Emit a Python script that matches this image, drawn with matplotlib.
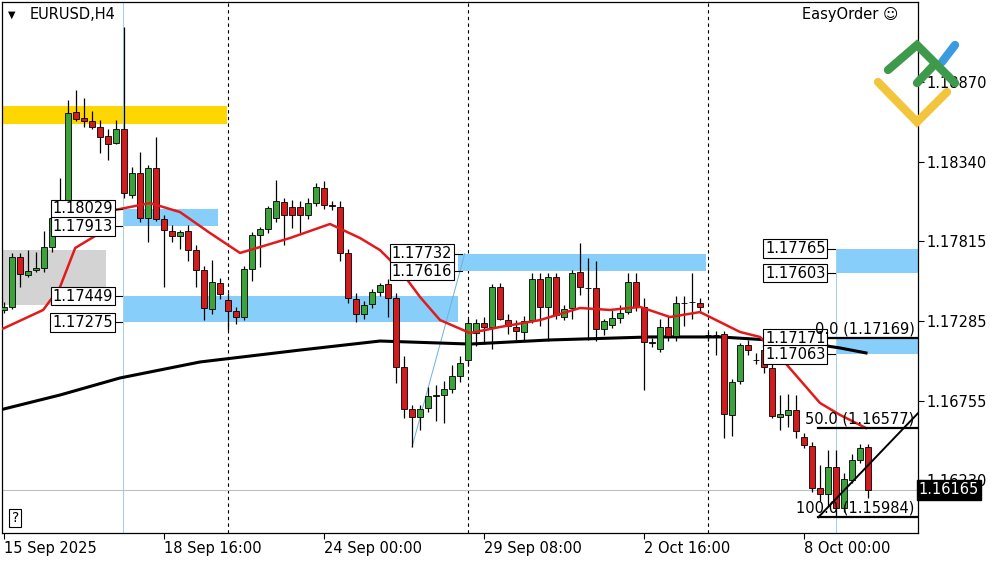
import matplotlib
matplotlib.use("Agg")
import matplotlib.pyplot as plt
from matplotlib.lines import Line2D
from matplotlib.patches import Rectangle

# H4 candles
opens = [1.17358, 1.17378, 1.17709, 1.17590, 1.17623, 1.17636, 1.17775, 1.17968, 1.18067, 1.18670,
         1.18631, 1.18611, 1.18571, 1.18511, 1.18465, 1.18558, 1.18120, 1.18266, 1.17968, 1.18299,
         1.17961, 1.17881, 1.17848, 1.17881, 1.17755, 1.17623, 1.17364, 1.17537, 1.17424, 1.17351,
         1.17311, 1.17630, 1.17855, 1.17895, 1.17968, 1.18074, 1.18041, 1.18041, 1.17988, 1.18067,
         1.18167, 1.18054, 1.18041, 1.17736, 1.17431, 1.17331, 1.17397, 1.17477, 1.17530, 1.17437,
         1.16980, 1.16701, 1.16648, 1.16708, 1.16788, 1.16794, 1.16834, 1.16920, 1.17026, 1.17205,
         1.17272, 1.17245, 1.17510, 1.17291, 1.17245, 1.17212, 1.17291, 1.17563, 1.17378, 1.17576,
         1.17311, 1.17371, 1.17610, 1.17504, 1.17504, 1.17232, 1.17258, 1.17305, 1.17344, 1.17543,
         1.17378, 1.17146, 1.17099, 1.17245, 1.17185, 1.17404, 1.17411, 1.17404, 1.17192, 1.17192,
         1.17198, 1.16662, 1.16887, 1.17126, 1.17026, 1.17092, 1.16973, 1.16648, 1.16662, 1.16695,
         1.16516, 1.16456, 1.16178, 1.16138, 1.16317, 1.16045, 1.16230, 1.16363, 1.16449]
highs = [1.17411, 1.17736, 1.17736, 1.17755, 1.17742, 1.17881, 1.18054, 1.18233, 1.18750, 1.18816,
         1.18763, 1.18680, 1.18617, 1.18558, 1.18617, 1.19234, 1.18305, 1.18405, 1.18320, 1.18505,
         1.17990, 1.17920, 1.17890, 1.17920, 1.17790, 1.17650, 1.17689, 1.17570, 1.17470, 1.17380,
         1.17650, 1.17875, 1.17910, 1.18050, 1.18220, 1.18100, 1.18090, 1.18080, 1.18100, 1.18200,
         1.18210, 1.18080, 1.18080, 1.17760, 1.17470, 1.17420, 1.17500, 1.17540, 1.17560, 1.17470,
         1.17050, 1.16730, 1.16730, 1.16850, 1.16860, 1.16890, 1.16990, 1.17050, 1.17300, 1.17300,
         1.17310, 1.17530, 1.17540, 1.17330, 1.17290, 1.17320, 1.17600, 1.17600, 1.17600, 1.17600,
         1.17390, 1.17620, 1.17802, 1.17700, 1.17680, 1.17300, 1.17360, 1.17390, 1.17603, 1.17603,
         1.17440, 1.17170, 1.17300, 1.17320, 1.17450, 1.17450, 1.17603, 1.17440, 1.17210, 1.17220,
         1.17220, 1.16900, 1.17140, 1.17160, 1.17070, 1.17140, 1.17000, 1.16794, 1.16800, 1.16794,
         1.16540, 1.16480, 1.16330, 1.16430, 1.16430, 1.16280, 1.16400, 1.16470, 1.16470]
lows = [1.17338, 1.17364, 1.17510, 1.17576, 1.17610, 1.17610, 1.17742, 1.17961, 1.18041, 1.18611,
        1.18571, 1.18558, 1.18399, 1.18352, 1.18458, 1.18100, 1.18100, 1.17941, 1.17809, 1.17948,
        1.17510, 1.17809, 1.17760, 1.17680, 1.17510, 1.17291, 1.17330, 1.17430, 1.17225, 1.17265,
        1.17290, 1.17550, 1.17643, 1.17870, 1.17940, 1.17790, 1.17900, 1.17860, 1.17960, 1.18050,
        1.18030, 1.18020, 1.17680, 1.17404, 1.17278, 1.17300, 1.17370, 1.17450, 1.17311, 1.16874,
        1.16642, 1.16449, 1.16560, 1.16680, 1.16620, 1.16608, 1.16810, 1.16880, 1.16990, 1.17120,
        1.17130, 1.17100, 1.17290, 1.17200, 1.17160, 1.17160, 1.17270, 1.17250, 1.17150, 1.17300,
        1.17290, 1.17300, 1.17460, 1.17160, 1.17150, 1.17190, 1.17240, 1.17270, 1.17330, 1.17350,
        1.16827, 1.17110, 1.17080, 1.17150, 1.17150, 1.17250, 1.17300, 1.17340, 1.17150, 1.17059,
        1.16509, 1.16520, 1.16870, 1.17060, 1.17000, 1.16940, 1.16640, 1.16560, 1.16580, 1.16510,
        1.16440, 1.16150, 1.16090, 1.16060, 1.15984, 1.16020, 1.16210, 1.16340, 1.16110]
closes = [1.17378, 1.17709, 1.17596, 1.17616, 1.17636, 1.17775, 1.17968, 1.18060, 1.18664, 1.18624,
          1.18611, 1.18571, 1.18505, 1.18458, 1.18558, 1.18133, 1.18266, 1.17968, 1.18299, 1.17961,
          1.17888, 1.17848, 1.17875, 1.17755, 1.17623, 1.17371, 1.17543, 1.17464, 1.17351, 1.17311,
          1.17630, 1.17855, 1.17895, 1.18034, 1.18080, 1.17988, 1.17988, 1.17988, 1.18067, 1.18173,
          1.18054, 1.18050, 1.17736, 1.17437, 1.17331, 1.17391, 1.17477, 1.17523, 1.17437, 1.16980,
          1.16701, 1.16648, 1.16701, 1.16788, 1.16794, 1.16834, 1.16920, 1.17006, 1.17272, 1.17272,
          1.17245, 1.17510, 1.17298, 1.17252, 1.17218, 1.17285, 1.17563, 1.17378, 1.17576, 1.17325,
          1.17364, 1.17603, 1.17510, 1.17504, 1.17232, 1.17285, 1.17305, 1.17338, 1.17543, 1.17378,
          1.17146, 1.17139, 1.17245, 1.17185, 1.17404, 1.17404, 1.17411, 1.17378, 1.17192, 1.17192,
          1.16668, 1.16880, 1.17126, 1.17092, 1.17026, 1.16980, 1.16655, 1.16668, 1.16695, 1.16556,
          1.16463, 1.16178, 1.16138, 1.16317, 1.16045, 1.16237, 1.16363, 1.16443, 1.16165]

# moving averages, sampled along the picture (bar index, price)
ma_fast_idx = [-0.5, 4.9, 7, 8.9, 12, 13.9, 18.25, 22, 25.75, 29.5, 32, 35.75, 40.75, 44.5, 47, 49.5,
               52, 54.5, 58.25, 62, 67, 72, 75.75, 79.5, 83.25, 87, 89.5, 92, 94.5, 97, 99.5, 102,
               104.5, 107.75]
ma_fast = [1.17225, 1.17358, 1.17510, 1.17769, 1.17868, 1.18021, 1.18067, 1.18007, 1.17868, 1.17736,
           1.17775, 1.17835, 1.17928, 1.17835, 1.17755, 1.17623, 1.17444, 1.17291, 1.17205, 1.17245,
           1.17291, 1.17371, 1.17358, 1.17378, 1.17311, 1.17344, 1.17278, 1.17212, 1.17179, 1.17046,
           1.16894, 1.16741, 1.16662, 1.16575]
ma_slow_idx = [-0.5, 7, 14.5, 24.5, 37, 47, 58.25, 68.25, 80.75, 89.5, 99.5, 104.5, 107.75]
ma_slow = [1.16695, 1.16794, 1.16907, 1.17013, 1.17092, 1.17152, 1.17132, 1.17159, 1.17179, 1.17179,
           1.17146, 1.17106, 1.17073]

price_ticks = [1.18870, 1.18340, 1.17815, 1.17285, 1.16755, 1.16230]
time_ticks = [0, 20, 40, 60, 80, 100]
time_labels = ["15 Sep 2025", "18 Sep 16:00", "24 Sep 00:00", "29 Sep 08:00", "2 Oct 16:00", "8 Oct 00:00"]
separators = [28, 58, 88]

# zones: (start bar, end bar, low, high, colour)
zones = [(-0.25, 27.9, 1.18591, 1.18710, "#ffd700"),
         (-0.25, 12.75, 1.17391, 1.17755, "#d3d3d3"),
         (14.9, 26.75, 1.17913, 1.18029, "#87cefa"),
         (14.9, 56.75, 1.17275, 1.17449, "#87cefa"),
         (56.75, 87.75, 1.17616, 1.17732, "#87cefa"),
         (104.0, 115, 1.17603, 1.17765, "#87cefa"),
         (104.0, 115, 1.17063, 1.17171, "#87cefa")]
# price tags next to the zones: (bar of right edge, price)
tags = [(13.6, 1.18029), (13.6, 1.17913), (13.6, 1.17449), (13.6, 1.17275),
        (56.0, 1.17732), (56.0, 1.17616), (102.7, 1.17765), (102.7, 1.17603),
        (102.7, 1.17171), (102.7, 1.17063)]
fib_levels = [("0.0", 1.17169), ("50.0", 1.16577), ("100.0", 1.15984)]
last_price = 1.16165

fig = plt.figure(figsize=(10, 5.62), dpi=100)
ax = fig.add_axes([0.002, 29 / 562, 0.916, 531 / 562])
ax.set_xlim(-0.25, 114.25)
ax.set_ylim(1.15879, 1.19400)

for x0, x1, lo, hi, col in zones:
    ax.add_patch(Rectangle((x0, lo), x1 - x0, hi - lo, color=col, lw=0, zorder=1))

for s in separators:
    ax.axvline(s, color="black", ls=(0, (3, 3)), lw=0.8, zorder=0)
ax.axvline(14.9, color="#a8d0ea", lw=0.8, zorder=1)
ax.plot([104, 104], [1.15879, 1.17765], color="#a8d0ea", lw=0.8, zorder=1)
ax.plot([51, 57.6], [1.16449, 1.17732], color="#6fb0e0", lw=0.7, zorder=1)
ax.axhline(last_price, color="#c0c0c0", lw=0.8, zorder=1)

ax.plot(ma_slow_idx, ma_slow, color="black", lw=2.2, zorder=2)

for i in range(len(opens)):
    o, h, l, c = opens[i], highs[i], lows[i], closes[i]
    col = "#3ca33c" if c >= o else "#d01c1c"
    ax.vlines(i, l, h, color="black", lw=0.9, zorder=3)
    ax.bar(i, max(abs(c - o), 0.00002), bottom=min(o, c), width=0.7,
           color=col, edgecolor="black", lw=0.6, zorder=4)

ax.plot(ma_fast_idx, ma_fast, color="#e31a1c", lw=1.8, zorder=5)

for x, p in tags:
    ax.plot([x, x + 1.2], [p, p], color="black", lw=0.8, zorder=6)
    ax.text(x, p, "%.5f" % p, ha="right", va="center", fontsize=10.5, zorder=7,
            bbox=dict(boxstyle="square,pad=0.12", fc="white", ec="black", lw=0.8))

for name, p in fib_levels:
    ax.plot([101.8, 115], [p, p], color="black", lw=1.6, zorder=6)
    ax.text(113.8, p + 0.0001, "%s (%.5f)" % (name, p), ha="right", va="bottom",
            fontsize=10.5, zorder=7)
ax.plot([101.8, 115], [1.15984, 1.16715], color="black", lw=1.4, zorder=6)

ax.yaxis.tick_right()
ax.set_yticks(price_ticks)
ax.set_yticklabels(["%.5f" % p for p in price_ticks], fontsize=10.5)
ax.set_xticks(time_ticks)
ax.set_xticklabels(time_labels, fontsize=10.5, ha="left")
ax.tick_params(length=4, width=0.8, pad=2)
for sp in ax.spines.values():
    sp.set_linewidth(0.9)

ax.text(1.001, last_price, "%.5f" % last_price, transform=ax.get_yaxis_transform(), ha="left",
        va="center", fontsize=10.5, color="white", clip_on=False, zorder=8,
        bbox=dict(boxstyle="square,pad=0.15", fc="black", ec="black"))

ax.text(0.006, 0.985, "\u25bc", transform=ax.transAxes, fontsize=7, va="top")
ax.text(0.03, 0.99, "EURUSD,H4", transform=ax.transAxes, fontsize=10.5, va="top")
ax.text(0.978, 0.99, "EasyOrder \u263a", transform=ax.transAxes, fontsize=10.5, va="top", ha="right")
ax.text(1.4, 1.1593, "?", fontsize=10, ha="center", va="bottom",
        bbox=dict(boxstyle="square,pad=0.15", fc="white", ec="black", lw=0.8))

# logo in the top right corner (pixel coordinates)
def px(pts):
    return [p[0] / 1000 for p in pts], [1 - p[1] / 562 for p in pts]

for pts, col in [([(878, 82), (917, 122), (947, 92)], "#f2c53d"),
                 ([(942, 62), (955, 45)], "#3b9be0"),
                 ([(888, 70), (917, 45), (955, 83)], "#3c9a4a"),
                 ([(917, 83), (933, 66)], "#3c9a4a")]:
    xs, ys = px(pts)
    fig.add_artist(Line2D(xs, ys, color=col, lw=6, solid_capstyle="round", solid_joinstyle="miter"))

fig.savefig("out.png", dpi=100)
